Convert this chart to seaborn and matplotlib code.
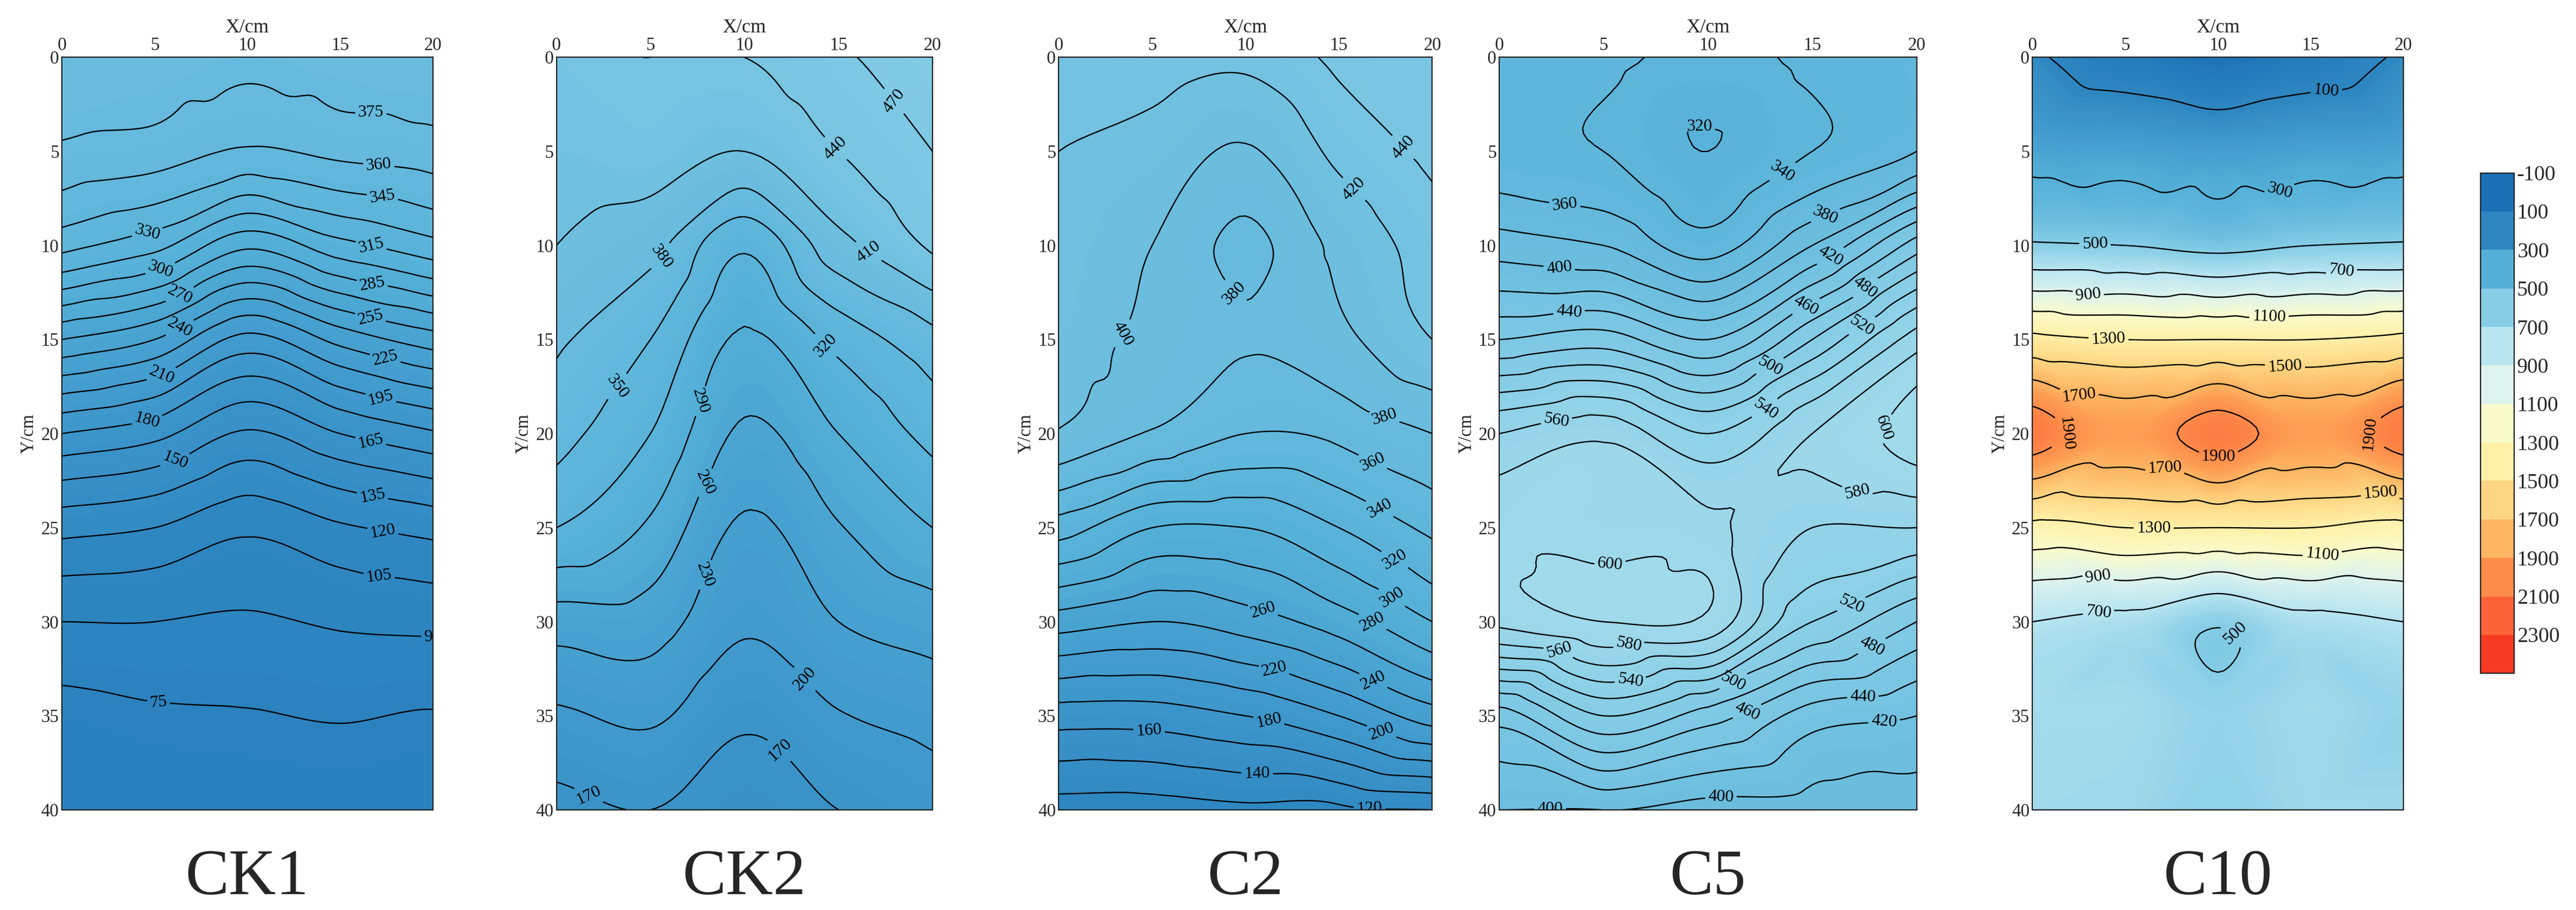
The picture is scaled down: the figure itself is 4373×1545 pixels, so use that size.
import numpy as np
import pandas as pd
import matplotlib
matplotlib.use("Agg")
import matplotlib.pyplot as plt
import matplotlib.tri as mtri
from matplotlib.colors import LinearSegmentedColormap, ListedColormap, BoundaryNorm
import seaborn as sns

sns.set_style("ticks")
plt.rcParams["font.family"] = ["Liberation Serif", "DejaVu Serif"]
plt.rcParams["xtick.direction"] = "in"
plt.rcParams["ytick.direction"] = "in"
plt.rcParams["axes.unicode_minus"] = False

# sample positions (cm)
x_cm = [0, 5, 10, 15, 20]
y_cm = [0, 5, 10, 15, 20, 25, 30, 35, 40]

# values, rows = y, cols = x
ck1 = [[388, 385, 380, 384, 386],
       [372, 368, 358, 364, 368],
       [335, 320, 288, 310, 325],
       [255, 240, 205, 230, 248],
       [180, 170, 148, 165, 178],
       [125, 120, 108, 118, 125],
       [90, 90, 88, 92, 94],
       [70, 73, 74, 76, 74],
       [62, 64, 65, 66, 66]]
ck2 = [[430, 440, 440, 465, 485],
       [420, 425, 410, 440, 470],
       [410, 390, 325, 400, 445],
       [385, 350, 285, 330, 370],
       [362, 320, 255, 290, 330],
       [320, 285, 225, 258, 290],
       [245, 245, 205, 230, 245],
       [195, 205, 175, 198, 210],
       [160, 170, 155, 170, 185]]
c2 = [[428, 430, 425, 445, 455],
      [420, 412, 398, 425, 445],
      [415, 400, 375, 405, 430],
      [410, 395, 382, 395, 420],
      [398, 378, 360, 365, 380],
      [330, 300, 300, 320, 345],
      [250, 240, 250, 270, 300],
      [170, 170, 180, 200, 230],
      [110, 110, 115, 115, 120]]
c5 = [[350, 345, 335, 345, 350],
      [345, 340, 320, 340, 360],
      [390, 380, 350, 400, 470],
      [460, 470, 440, 500, 570],
      [560, 575, 540, 580, 610],
      [590, 590, 585, 560, 560],
      [585, 600, 595, 520, 480],
      [450, 500, 470, 430, 420],
      [400, 400, 390, 390, 390]]
c10 = [[120, 20, -60, 20, 120],
       [250, 240, 220, 240, 250],
       [520, 500, 450, 500, 520],
       [1350, 1300, 1300, 1300, 1350],
       [1980, 1800, 1970, 1800, 1980],
       [1250, 1300, 1300, 1300, 1250],
       [700, 650, 520, 650, 700],
       [620, 610, 560, 600, 560],
       [600, 590, 540, 590, 590]]

panel_names = ["CK1", "CK2", "C2", "C5", "C10"]
panel_data = [ck1, ck2, c2, c5, c10]
line_levels = [np.arange(75, 376, 15), np.arange(170, 471, 30), np.arange(120, 441, 20),
               np.arange(320, 601, 20), np.arange(100, 2000, 200)]

cbar_ticks = [-100, 100, 300, 500, 700, 900, 1100, 1300, 1500, 1700, 1900, 2100, 2300]
cbar_colors = ["#1a6fb5", "#2e86c1", "#55b0d8", "#86cde6", "#b8e5f0", "#ddf3ee", "#f9fbcb",
               "#fff0a8", "#fed683", "#fdb562", "#fd8c4a", "#fc6338", "#f73a22"]

cmap = LinearSegmentedColormap.from_list(
    "soil", [((t + 100) / 2400, c) for t, c in zip(cbar_ticks, cbar_colors)])

fig = plt.figure(figsize=(43.73, 15.45), dpi=100)
lefts = [0.024, 0.216, 0.411, 0.582, 0.789]
widths = [0.144, 0.146, 0.145, 0.162, 0.144]

X, Y = np.meshgrid(x_cm, y_cm)
tri = mtri.Triangulation(X.ravel(), Y.ravel())
refiner = mtri.UniformTriRefiner(tri)

for name, data, lv, l, w in zip(panel_names, panel_data, line_levels, lefts, widths):
    ax = fig.add_axes([l, 0.11, w, 0.827])
    z = np.array(data, dtype=float).ravel()
    interp = mtri.CubicTriInterpolator(tri, z, kind="geom")
    tri_f, z_f = refiner.refine_field(z, triinterpolator=interp, subdiv=4)
    ax.tricontourf(tri_f, z_f, levels=np.arange(-100, 2301, 10), cmap=cmap,
                   vmin=-100, vmax=2300, extend="both")
    cs = ax.tricontour(tri_f, z_f, levels=lv, colors="black", linewidths=1.6)
    ax.clabel(cs, fmt="%d", fontsize=21, inline=True)
    ax.set_xlim(0, 20)
    ax.set_ylim(40, 0)
    ax.set_xticks([0, 5, 10, 15, 20])
    ax.set_yticks([0, 5, 10, 15, 20, 25, 30, 35, 40])
    ax.xaxis.tick_top()
    ax.xaxis.set_label_position("top")
    ax.tick_params(labelsize=22, length=8, width=1.5, right=True)
    ax.set_xlabel("X/cm", fontsize=24, labelpad=6)
    ax.set_ylabel("Y/cm", fontsize=22, labelpad=4)
    for s in ax.spines.values():
        s.set_linewidth(1.5)
    fig.text(l + w / 2, 0.035, name, ha="center", va="center", fontsize=80)

# discrete colour key
cax = fig.add_axes([0.963, 0.26, 0.013, 0.55])
bounds = cbar_ticks + [2500]
norm = BoundaryNorm(bounds, len(cbar_colors))
cb = fig.colorbar(plt.cm.ScalarMappable(norm=norm, cmap=ListedColormap(cbar_colors)),
                  cax=cax, boundaries=bounds, ticks=cbar_ticks, drawedges=True)
cax.invert_yaxis()
cb.ax.tick_params(labelsize=26, length=0)
cb.dividers.set_linewidth(1.5)
cb.outline.set_linewidth(1.5)

fig.savefig("out.png", dpi=100)
